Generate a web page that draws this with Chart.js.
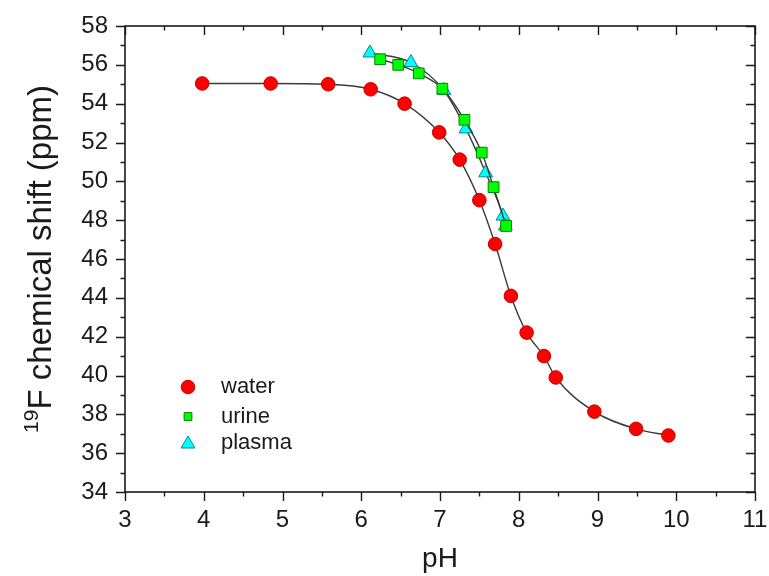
<!DOCTYPE html>
<html>
<head>
<meta charset="utf-8">
<script src="https://cdn.jsdelivr.net/npm/chart.js@4/dist/chart.umd.min.js"></script>
<style>
  html, body { margin: 0; padding: 0; background: #ffffff; }
  #wrap { width: 769px; height: 576px; }
</style>
</head>
<body>
<div id="wrap"><canvas id="c" width="769" height="576"></canvas></div>
<script>
// 19F chemical shift titration curves (ppm) versus pH
const waterPH    = [3.98, 4.85, 5.58, 6.12, 6.55, 6.99, 7.25, 7.50, 7.70, 7.90, 8.10, 8.32, 8.47, 8.96, 9.49, 9.90];
const waterShift = [55.04, 55.04, 55.00, 54.74, 54.00, 52.52, 51.12, 49.03, 46.77, 44.10, 42.21, 41.00, 39.90, 38.14, 37.25, 36.91];

const urinePH    = [6.24, 6.47, 6.73, 7.03, 7.31, 7.53, 7.68, 7.84];
const urineShift = [56.29, 56.00, 55.56, 54.77, 53.17, 51.48, 49.70, 47.70];

const plasmaPH    = [6.11, 6.63, 7.05, 7.33, 7.58, 7.80, 7.83];
const plasmaShift = [56.61, 56.12, 54.68, 52.70, 50.44, 48.21, 47.70];

const seriesLabels = ['water', 'urine', 'plasma'];
const xTicks = [3, 4, 5, 6, 7, 8, 9, 10, 11];
const yTicks = [34, 36, 38, 40, 42, 44, 46, 48, 50, 52, 54, 56, 58];

const FONT = "'Liberation Sans', Arial, sans-serif";

function toPoints(xs, ys) {
  return xs.map((x, i) => ({ x: x, y: ys[i] }));
}

const markerStyles = [
  { pointStyle: 'circle',   radius: 6.8, bg: '#ff0000', border: '#c00000' },
  { pointStyle: 'rect',     radius: 7.6, bg: '#00ff00', border: '#008000' },
  { pointStyle: 'triangle', radius: 8.0, bg: '#00ffff', border: '#008b8b' }
];

function makeDataset(i, xs, ys) {
  const m = markerStyles[i];
  return {
    label: seriesLabels[i],
    data: toPoints(xs, ys),
    showLine: true,
    cubicInterpolationMode: 'monotone',
    borderColor: '#3a3a3a',
    borderWidth: 1.4,
    pointStyle: m.pointStyle,
    pointRadius: m.radius,
    pointBackgroundColor: m.bg,
    pointBorderColor: m.border,
    pointBorderWidth: 1,
    fill: false
  };
}

// Frame with major/minor ticks, axis titles and the inset legend
const framePlugin = {
  id: 'frame',
  afterDraw(chart) {
    const ctx = chart.ctx;
    const xs = chart.scales.x, ys = chart.scales.y;
    const a = chart.chartArea;
    ctx.save();
    ctx.strokeStyle = '#1a1a1a';
    ctx.lineWidth = 1.6;
    ctx.strokeRect(a.left, a.top, a.right - a.left, a.bottom - a.top);

    ctx.lineWidth = 1.4;
    ctx.beginPath();
    for (let v = xs.min; v <= xs.max + 1e-9; v += 0.5) {
      const px = Math.round(xs.getPixelForValue(v)) + 0.5;
      const len = Number.isInteger(v) ? 9 : 4.5;
      ctx.moveTo(px, a.bottom); ctx.lineTo(px, a.bottom + len);
      ctx.moveTo(px, a.top);    ctx.lineTo(px, a.top + len);
    }
    for (let v = ys.min; v <= ys.max + 1e-9; v += 1) {
      const py = Math.round(ys.getPixelForValue(v)) + 0.5;
      const len = (v % 2 === 0) ? 9 : 4.5;
      ctx.moveTo(a.left - len, py); ctx.lineTo(a.left, py);
      ctx.moveTo(a.right, py);      ctx.lineTo(a.right - len, py);
    }
    ctx.stroke();

    // x axis title
    ctx.fillStyle = '#1a1a1a';
    ctx.textAlign = 'center';
    ctx.textBaseline = 'middle';
    ctx.font = '28px ' + FONT;
    ctx.fillText('pH', (a.left + a.right) / 2, 559);

    // y axis title with superscript mass number
    const main = 'F chemical shift (ppm)';
    const sup = '19';
    ctx.save();
    ctx.translate(40, (a.top + a.bottom) / 2);
    ctx.rotate(-Math.PI / 2);
    ctx.font = '33px ' + FONT;
    const wMain = ctx.measureText(main).width;
    ctx.font = '21px ' + FONT;
    const wSup = ctx.measureText(sup).width;
    const start = -(wMain + wSup) / 2;
    ctx.textAlign = 'left';
    ctx.textBaseline = 'alphabetic';
    ctx.fillText(sup, start, -2);
    ctx.font = '33px ' + FONT;
    ctx.fillText(main, start + wSup, 11);
    ctx.restore();

    // legend inside the plot
    const rows = [387, 416.5, 443];
    chart.data.datasets.forEach((ds, i) => {
      const m = markerStyles[i];
      ctx.fillStyle = m.bg;
      ctx.strokeStyle = m.border;
      ctx.lineWidth = 1;
      Chart.helpers.drawPoint(ctx, {
        pointStyle: m.pointStyle, rotation: 0, borderWidth: 1,
        radius: i === 1 ? 5.5 : m.radius
      }, 188, rows[i] + (i === 2 ? 1 : 0));
      ctx.fillStyle = '#1a1a1a';
      ctx.font = '22px ' + FONT;
      ctx.textAlign = 'left';
      ctx.textBaseline = 'middle';
      ctx.fillText(ds.label, 221, rows[i]);
    });
    ctx.restore();
  }
};

function clearPadding(scale) {
  scale.paddingLeft = 0; scale.paddingRight = 0;
  scale.paddingTop = 0; scale.paddingBottom = 0;
}

new Chart(document.getElementById('c'), {
  type: 'scatter',
  data: {
    datasets: [
      makeDataset(0, waterPH, waterShift),
      makeDataset(1, urinePH, urineShift),
      makeDataset(2, plasmaPH, plasmaShift)
    ]
  },
  options: {
    responsive: false,
    animation: false,
    devicePixelRatio: 1,
    layout: { padding: { left: 0, right: 14, top: 26, bottom: 0 } },
    plugins: {
      legend: { display: false },
      tooltip: { enabled: false }
    },
    scales: {
      x: {
        type: 'linear',
        min: 3, max: 11,
        afterFit(scale) { scale.height = 84; clearPadding(scale); },
        afterBuildTicks(scale) { scale.ticks = xTicks.map(v => ({ value: v })); },
        grid: { display: false, drawTicks: false },
        border: { display: false },
        ticks: { padding: 14, color: '#1a1a1a', font: { family: FONT, size: 24 } }
      },
      y: {
        type: 'linear',
        min: 34, max: 58,
        afterFit(scale) { scale.width = 125; clearPadding(scale); },
        afterBuildTicks(scale) { scale.ticks = yTicks.map(v => ({ value: v })); },
        grid: { display: false, drawTicks: false },
        border: { display: false },
        ticks: { padding: 17, color: '#1a1a1a', font: { family: FONT, size: 24 } }
      }
    }
  },
  plugins: [framePlugin]
});
</script>
</body>
</html>
